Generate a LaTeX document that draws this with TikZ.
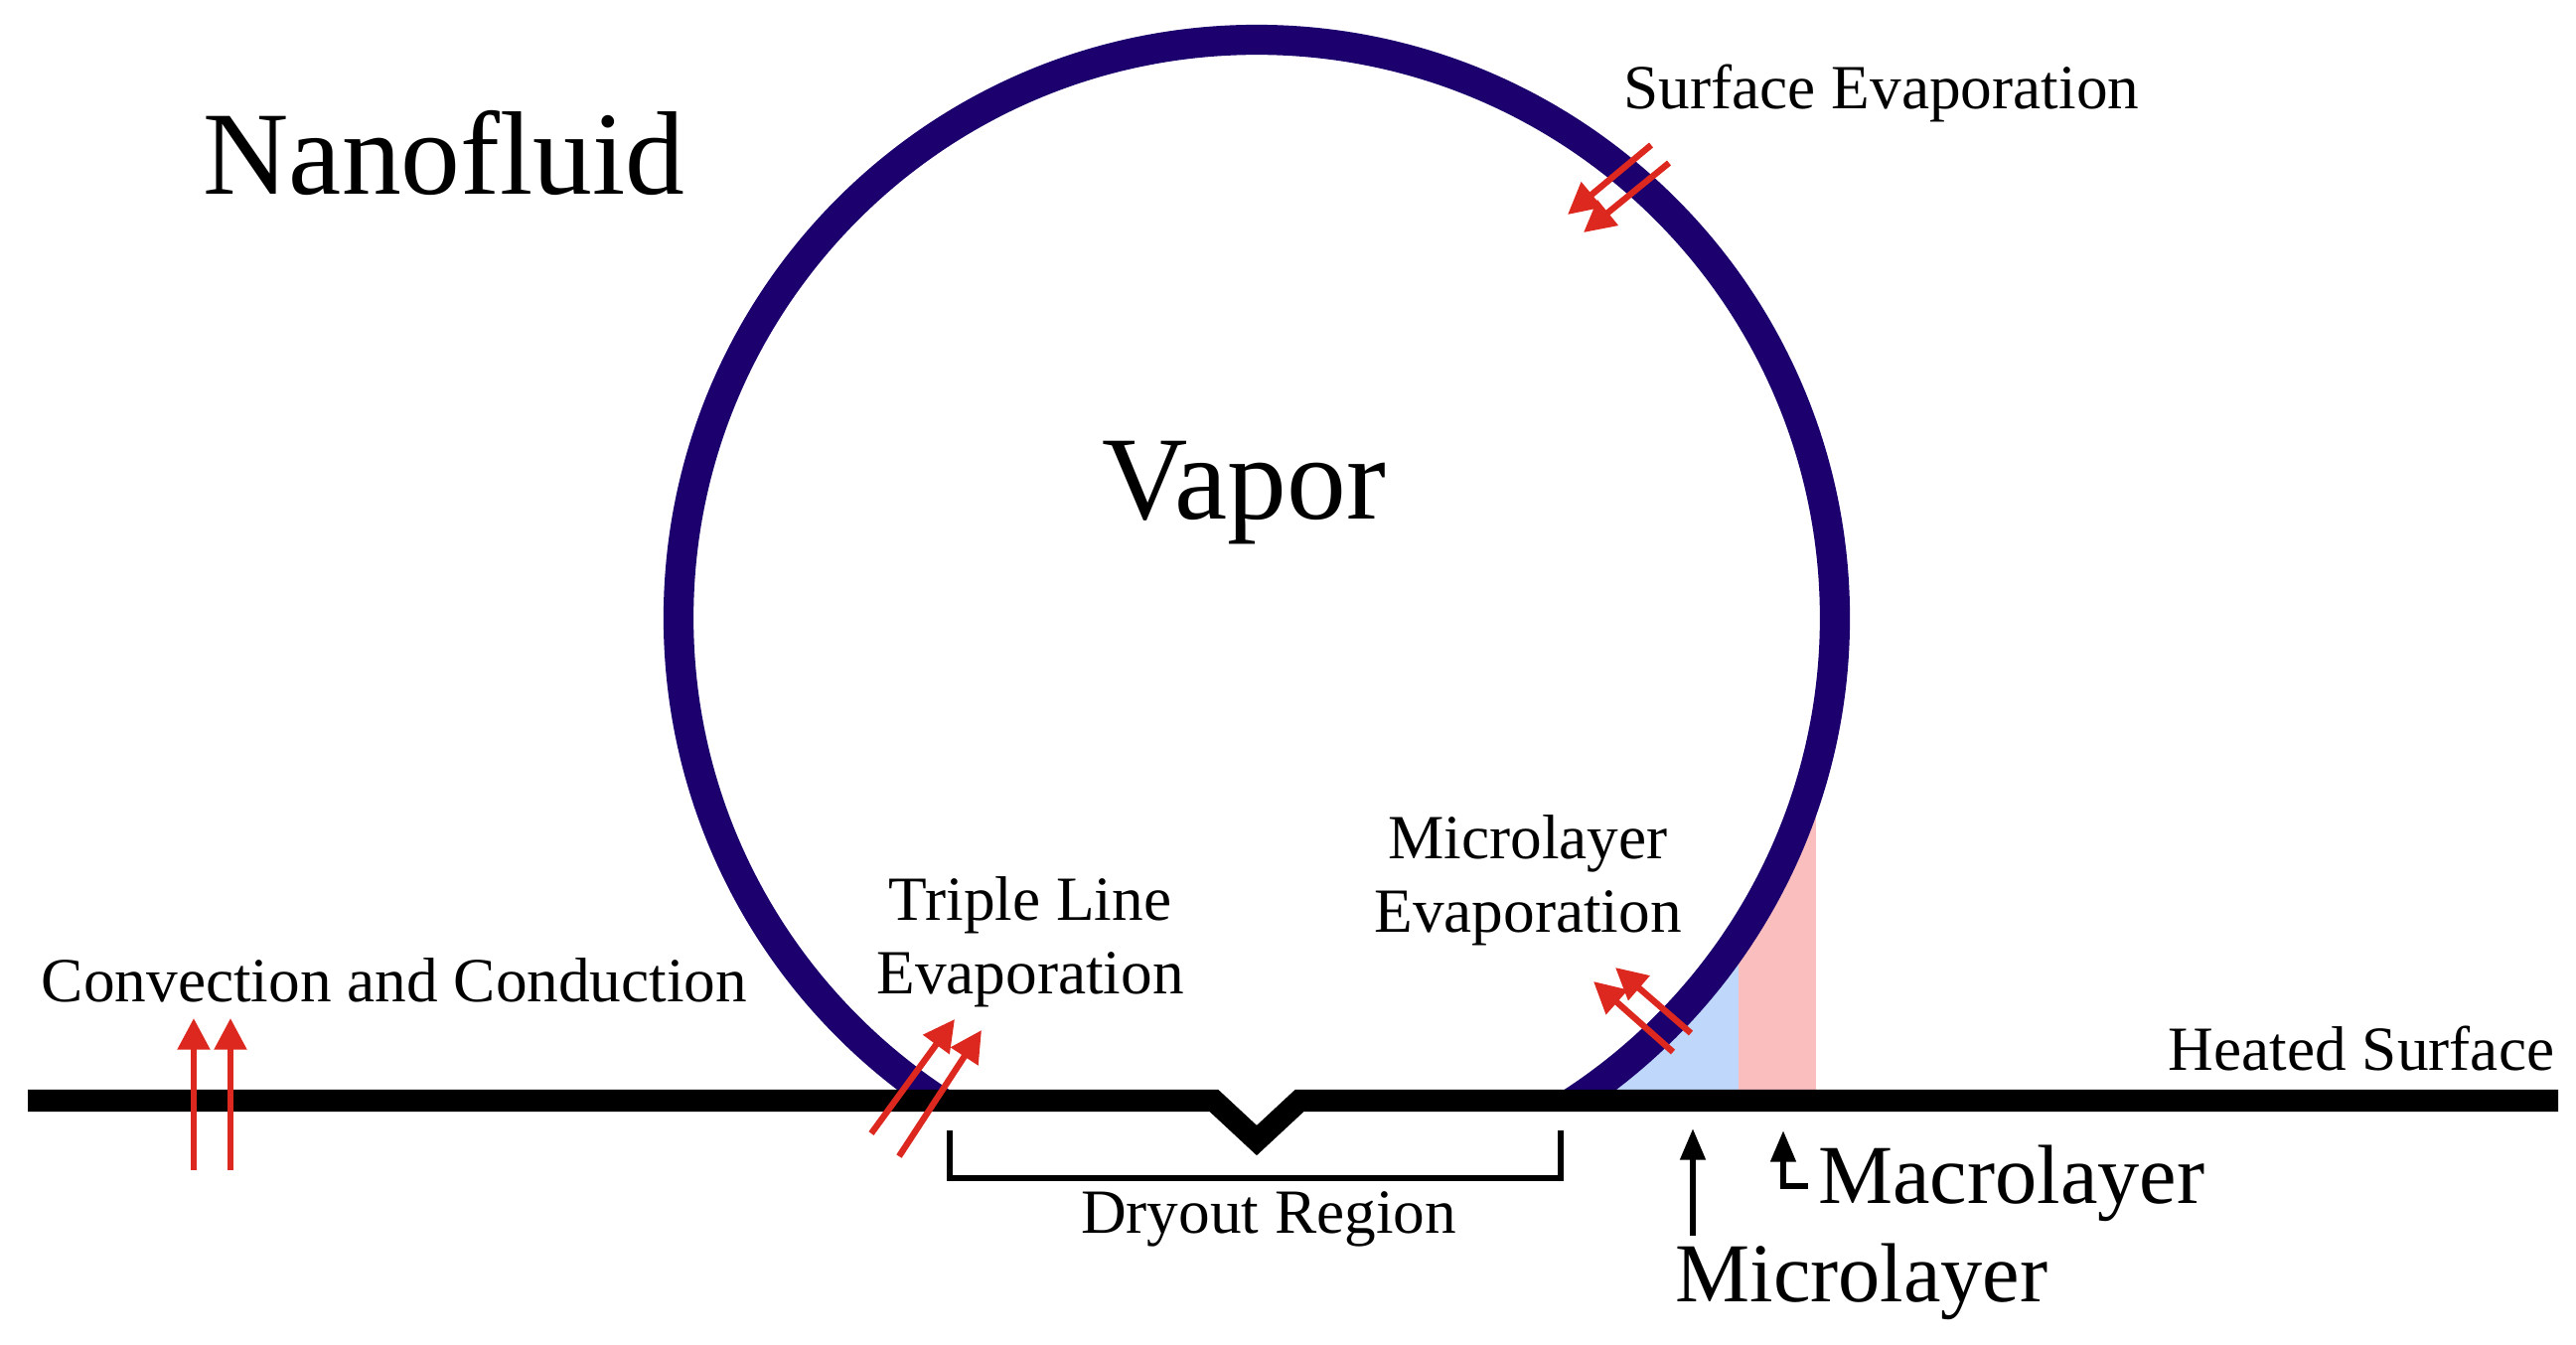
\documentclass[tikz,border=0pt]{standalone}
\usepackage{fontspec}
\setmainfont{Liberation Serif}
\usetikzlibrary{arrows.meta}
\definecolor{navy}{RGB}{27,0,110}
\definecolor{redarr}{RGB}{220,40,30}
\definecolor{lblue}{RGB}{190,215,250}
\definecolor{lpink}{RGB}{250,190,190}
\begin{document}
\begin{tikzpicture}[x=0.01cm,y=-0.01cm,
  redarrow/.style={draw=redarr,line width=1.8pt,-{Triangle[length=9pt,width=9pt]}},
  blackarrow/.style={draw=black,line width=1.7pt,-{Triangle[length=9pt,width=7pt]}},
  small/.style={font=\fontsize{18}{21}\selectfont,align=center},
  mid/.style={font=\fontsize{24}{27}\selectfont},
  big/.style={font=\fontsize{34}{38}\selectfont}]
\useasboundingbox (0,0) rectangle (2593,1353);
% layers
\fill[lblue] (1540,790) rectangle (1750,1108);
\fill[lpink] (1750,790) rectangle (1828,1108);
\fill[white] (1265,622) circle (582);
% bubble
\begin{scope}
\clip (0,0) rectangle (2593,1108);
\draw[navy,line width=8.6pt] (1265,622) circle (582);
\end{scope}
% surface
\draw[line width=6.3pt,line join=miter] (28,1108) -- (1222,1108) -- (1265,1148) -- (1308,1108) -- (2575,1108);
% bracket
\draw[line width=1.6pt] (956,1138) -- (956,1186) -- (1571,1186) -- (1571,1138);
% texts
\node[big] (nano) at (447,154) {Nanofluid};
\node[big] (vap) at (1252,496) {Vapor};
\node[small] (se) at (1894,94) {Surface Evaporation};
\node[small] (tl) at (1037,948) {Triple Line\\Evaporation};
\node[small] (me) at (1538,886) {Microlayer\\Evaporation};
\node[small] (cc) at (397,987) {Convection and Conduction};
\node[small] (hs) at (2377,1055) {Heated Surface};
\node[small] (dr) at (1277,1227) {Dryout Region};
\node[mid,anchor=west] (mac) at (1818,1191) {Macrolayer};
\node[mid] (mic) at (1874,1290) {Microlayer};
% red arrows
\coordinate (c1a) at (195,1178); \coordinate (c1b) at (195,1025);
\coordinate (c2a) at (232,1178); \coordinate (c2b) at (232,1025);
\draw[redarrow] (c1a) -- (c1b);
\draw[redarrow] (c2a) -- (c2b);
\coordinate (t1a) at (877,1141); \coordinate (t1b) at (961,1026);
\coordinate (t2a) at (905,1164); \coordinate (t2b) at (988,1037);
\draw[redarrow] (t1a) -- (t1b);
\draw[redarrow] (t2a) -- (t2b);
\coordinate (m1a) at (1684,1059); \coordinate (m1b) at (1604,988);
\coordinate (m2a) at (1702,1040); \coordinate (m2b) at (1626,974);
\draw[redarrow] (m1a) -- (m1b);
\draw[redarrow] (m2a) -- (m2b);
\coordinate (s1a) at (1662,146); \coordinate (s1b) at (1578,216);
\coordinate (s2a) at (1680,164); \coordinate (s2b) at (1594,234);
\draw[redarrow] (s1a) -- (s1b);
\draw[redarrow] (s2a) -- (s2b);
% black arrows
\coordinate (ma) at (1704,1244); \coordinate (mb) at (1704,1136);
\draw[blackarrow] (ma) -- (mb);
\coordinate (Ma) at (1820,1194); \coordinate (Mc) at (1795,1194); \coordinate (Mb) at (1795,1138);
\draw[blackarrow] (Ma) -- (Mc) -- (Mb);
\end{tikzpicture}
\end{document}
